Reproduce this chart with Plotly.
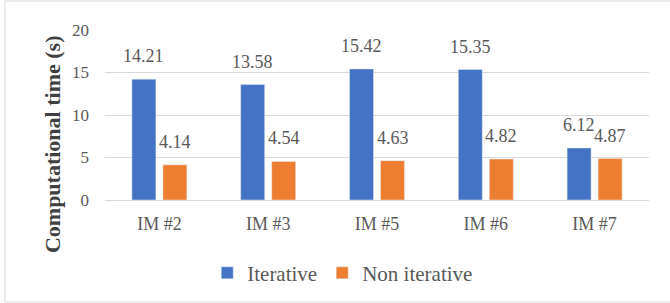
import plotly.graph_objects as go

categories = ["IM #2", "IM #3", "IM #5", "IM #6", "IM #7"]
iterative = [14.21, 13.58, 15.42, 15.35, 6.12]
non_iterative = [4.14, 4.54, 4.63, 4.82, 4.87]
y_ticks = [0, 5, 10, 15, 20]
y_title = "Computational time (s)"

BLUE = "#4472C4"
ORANGE = "#ED7D31"
TXT = "#595959"
FONT = "Liberation Serif"

fig = go.Figure()
fig.add_trace(go.Bar(x=categories, y=iterative, name="Iterative", marker_color=BLUE))
fig.add_trace(go.Bar(x=categories, y=non_iterative, name="Non iterative", marker_color=ORANGE))

ann = []
for cat, v in zip(categories, iterative):
    ann.append(dict(x=cat, y=v, text=f"{v:.2f}", xshift=-15.5, yshift=11, showarrow=False,
                    yanchor="bottom", font=dict(family=FONT, size=18, color=TXT)))
for cat, v in zip(categories, non_iterative):
    ann.append(dict(x=cat, y=v, text=f"{v:.2f}", xshift=15.5, yshift=11, showarrow=False,
                    yanchor="bottom", font=dict(family=FONT, size=18, color=TXT)))
# y-axis title (placed like the reference: centred on the chart's full height)
ann.append(dict(xref="paper", yref="paper", x=-0.0974, y=0.329, text=f"<b>{y_title}</b>",
                textangle=-90, showarrow=False, xanchor="center", yanchor="middle",
                font=dict(family=FONT, size=22, color="#404040")))

fig.update_layout(
    width=670, height=303,
    margin=dict(l=105, r=21, t=30, b=103, autoexpand=False),
    paper_bgcolor="white", plot_bgcolor="white",
    barmode="group", bargap=0.43, bargroupgap=0.226,
    font=dict(family=FONT, size=17, color=TXT),
    annotations=ann,
    showlegend=True,
    legend=dict(orientation="h", x=0.437, xanchor="center", y=-0.31, yanchor="top",
                font=dict(family=FONT, size=21, color=TXT), itemwidth=30,
                traceorder="normal"),
    xaxis=dict(showline=True, linecolor="#d9d9d9", linewidth=1, ticks="", automargin=False,
               tickfont=dict(family=FONT, size=18, color=TXT), ticklabelstandoff=7),
    yaxis=dict(range=[0, 20], tickvals=y_ticks, showgrid=True, gridcolor="#d9d9d9",
               zeroline=False, showline=False, ticks="", automargin=False,
               tickfont=dict(family=FONT, size=17, color=TXT), ticklabelstandoff=15),
    shapes=[dict(type="rect", xref="paper", yref="paper",
                 x0=-0.1838, x1=1.06, y0=-0.6, y1=1.1706,
                 line=dict(color="#d9d9d9", width=1), fillcolor="rgba(0,0,0,0)")],
)

fig.write_html("out.html", config={"displayModeBar": False},
               post_script="document.body.style.margin='0';document.body.style.overflow='hidden';")
